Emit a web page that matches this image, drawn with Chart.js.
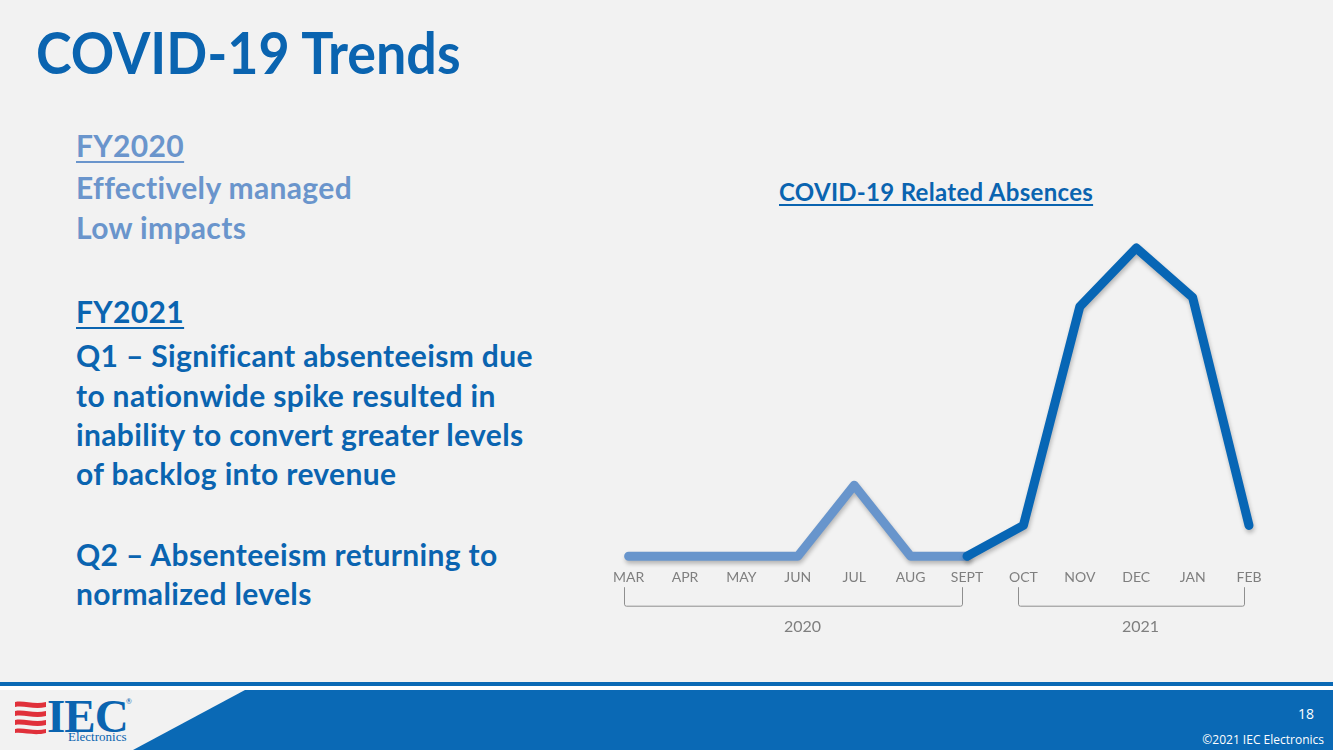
<!DOCTYPE html>
<html>
<head>
<meta charset="utf-8">
<script src="https://cdn.jsdelivr.net/npm/chart.js@4/dist/chart.umd.min.js"></script>
<style>
  html, body { margin: 0; padding: 0; }
  body { width: 1333px; height: 750px; background: #f2f2f2; position: relative; overflow: hidden; font-family: Lato, "Open Sans", sans-serif; }
  .abs { position: absolute; white-space: nowrap; }
  #title { left: 36px; top: 18px; font-size: 57px; font-weight: 700; color: #0a64b0; line-height: 68px; transform: scaleX(0.944); transform-origin: left center; }
  .lt { left: 76px; font-size: 30px; font-weight: 700; line-height: 34px; letter-spacing: 0.35px; }
  .light { color: #6a95cc; }
  .dark { color: #0a64b0; }
  .ul { text-decoration: underline; text-decoration-thickness: 2px; text-underline-offset: 4px; }
  #ctitle { left: 779px; top: 177px; font-size: 24px; font-weight: 700; color: #0a64b0; letter-spacing: 0.3px; text-decoration: underline; text-decoration-thickness: 2px; text-underline-offset: 3px; line-height: 30px; }
  #chartBox { position: absolute; left: 600px; top: 230px; width: 680px; height: 420px; }
  #footer { position: absolute; left: 0; top: 682px; width: 1333px; height: 68px; }
  #pg { right: 19px; top: 704px; color: #fff; font-size: 14px; font-family: "Open Sans", sans-serif; }
  #copy { right: 9px; top: 731px; color: #fff; font-size: 12px; font-family: "Open Sans", sans-serif; }
  #iec { left: 47px; top: 693px; font-family: "Liberation Serif", serif; font-weight: 700; font-size: 47px; color: #0a64b0; line-height: 46px; letter-spacing: -1px; }
  #elec { left: 68px; top: 729px; font-family: "Liberation Serif", serif; font-size: 13px; color: #0a64b0; }
</style>
</head>
<body>
<div id="title" class="abs">COVID-19 Trends</div>

<div class="abs lt light ul" style="top:128px">FY2020</div>
<div class="abs lt light" style="top:170px">Effectively managed</div>
<div class="abs lt light" style="top:210px">Low impacts</div>

<div class="abs lt dark ul" style="top:294px">FY2021</div>
<div class="abs lt dark" style="top:338px">Q1 – Significant absenteeism due</div>
<div class="abs lt dark" style="top:378px">to nationwide spike resulted in</div>
<div class="abs lt dark" style="top:417px">inability to convert greater levels</div>
<div class="abs lt dark" style="top:456px">of backlog into revenue</div>

<div class="abs lt dark" style="top:537px">Q2 – Absenteeism returning to</div>
<div class="abs lt dark" style="top:576px">normalized levels</div>

<div id="ctitle" class="abs">COVID-19 Related Absences</div>

<div id="chartBox"><canvas id="c"></canvas></div>

<svg id="footer" width="1333" height="68" viewBox="0 0 1333 68">
  <rect x="0" y="0" width="1333" height="4" fill="#0a69b5"/>
  <rect x="0" y="4" width="1333" height="4" fill="#ffffff"/>
  <rect x="0" y="8" width="1333" height="60" fill="#0a69b5"/>
  <polygon points="0,8 245,8 133,68 0,68" fill="#f2f2f2"/>
  <g fill="#e0303a">
    <path d="M15,20 C24,18 34,23 46,20 L46,25 C34,28 24,23 15,25 Z"/>
    <path d="M15,29 C24,27 34,32 46,29 L46,34 C34,37 24,32 15,34 Z"/>
    <path d="M15,38 C24,36 34,41 46,38 L46,43 C34,46 24,41 15,43 Z"/>
    <path d="M15,47 C24,45 34,50 46,47 L46,51 C34,54 24,50 15,51 Z"/>
  </g>
</svg>
<div id="iec" class="abs">IEC</div>
<div class="abs" style="left:126px;top:697px;font-size:7px;color:#0a64b0;">®</div>
<div id="elec" class="abs">Electronics</div>
<div id="pg" class="abs">18</div>
<div id="copy" class="abs">©2021 IEC Electronics</div>

<script>
// ---- data ----
const months = ['MAR','APR','MAY','JUN','JUL','AUG','SEPT','OCT','NOV','DEC','JAN','FEB'];
const absences2020 = [0, 0, 0, 0, 23, 0, 0, null, null, null, null, null];
const absences2021 = [null, null, null, null, null, null, 0, 10, 81, 100, 84, 10];
const yearLabels = ['2020', '2021'];
const yearFirstIdx = [0, 7];
const yearLastIdx = [6, 11];

const shadowPlugin = {
  id: 'shadow',
  beforeDatasetsDraw(chart) {
    const ctx = chart.ctx;
    ctx.save();
    ctx.shadowColor = 'rgba(0,0,0,0.25)';
    ctx.shadowBlur = 4;
    ctx.shadowOffsetX = 1;
    ctx.shadowOffsetY = 3;
  },
  afterDatasetsDraw(chart) { chart.ctx.restore(); }
};

const bracketPlugin = {
  id: 'brackets',
  afterDraw(chart) {
    const ctx = chart.ctx;
    const xs = chart.scales.x;
    const base = chart.chartArea.bottom;
    const yTop = base + 31, yBot = base + 50;
    ctx.save();
    ctx.strokeStyle = '#8f8f8f';
    ctx.lineWidth = 1;
    ctx.fillStyle = '#7f7f7f';
    ctx.font = '16px Lato, "Open Sans", sans-serif';
    ctx.textAlign = 'center';
    ctx.textBaseline = 'middle';
    for (let i = 0; i < yearLabels.length; i++) {
      const x1 = Math.round(xs.getPixelForValue(yearFirstIdx[i])) - 4.5;
      const x2 = Math.round(xs.getPixelForValue(yearLastIdx[i])) - 4.5;
      ctx.beginPath();
      ctx.moveTo(x1, yTop);
      ctx.lineTo(x1, yBot - 2);
      ctx.quadraticCurveTo(x1, yBot, x1 + 2, yBot);
      ctx.lineTo(x2 - 2, yBot);
      ctx.quadraticCurveTo(x2, yBot, x2, yBot - 2);
      ctx.lineTo(x2, yTop);
      ctx.stroke();
      ctx.fillText(yearLabels[i], (x1 + x2) / 2 + 9, base + 71);
    }
    ctx.restore();
  }
};

new Chart(document.getElementById('c'), {
  type: 'line',
  data: {
    labels: months,
    datasets: [
      { label: '2021', data: absences2021, borderColor: '#0766b5', borderWidth: 9, clip: false, spanGaps: false },
      { label: '2020', data: absences2020, borderColor: '#6895cc', borderWidth: 9, clip: false, spanGaps: false }
    ]
  },
  options: {
    responsive: true,
    maintainAspectRatio: false,
    animation: false,
    layout: { padding: { left: 26, right: 31, top: 18, bottom: 51 } },
    elements: {
      point: { radius: 0, hoverRadius: 0 },
      line: { tension: 0, borderCapStyle: 'round', borderJoinStyle: 'round' }
    },
    plugins: { legend: { display: false }, tooltip: { enabled: false }, title: { display: false } },
    scales: {
      x: {
        offset: false,
        grid: { display: false, drawTicks: false },
        border: { display: false },
        ticks: { color: '#7f7f7f', font: { size: 14, family: 'Lato, "Open Sans", sans-serif' }, padding: 13, maxRotation: 0, autoSkip: false }
      },
      y: { display: false, min: 0, max: 100 }
    }
  },
  plugins: [shadowPlugin, bracketPlugin]
});
</script>
</body>
</html>
